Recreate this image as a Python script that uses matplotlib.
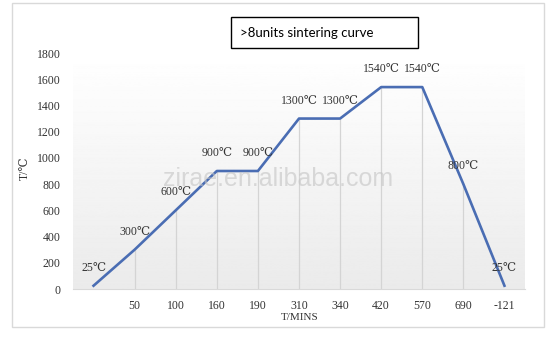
import numpy as np
import matplotlib.pyplot as plt
from matplotlib.patches import Rectangle

# sintering curve data (category axis, first category has no label)
time_labels = ["", "50", "100", "160", "190", "310", "340", "420", "570", "690", "-121"]
temps = [25, 300, 600, 900, 900, 1300, 1300, 1540, 1540, 800, 25]
point_labels = ["25℃", "300℃", "600℃", "900℃", "900℃", "1300℃", "1300℃",
                "1540℃", "1540℃", "800℃", "25℃"]
y_ticks = [0, 200, 400, 600, 800, 1000, 1200, 1400, 1600, 1800]

W, H = 555, 355
fig = plt.figure(figsize=(W / 100, H / 100), dpi=100)
fig.patch.set_facecolor("white")

# outer chart border
fig.patches.append(Rectangle((12 / W, 1 - 327 / H), 532 / W, 324 / H,
                             transform=fig.transFigure, fill=False,
                             edgecolor="#d9d9d9", linewidth=1.0))

ax = fig.add_axes([73 / W, 1 - 289 / H, 452 / W, 236 / H])
x = np.arange(len(temps))
ax.set_xlim(-0.5, len(temps) - 0.5)
ax.set_ylim(0, 1800)

# soft grey gradient behind the plot (white top -> light grey bottom)
grad = np.linspace(0.92, 1.0, 256).reshape(-1, 1)
ax.imshow(grad, cmap="gray", vmin=0, vmax=1, aspect="auto",
          extent=(-0.5, len(temps) - 0.5, 0, 1800), zorder=0, origin="lower")

# drop lines from the points
ax.vlines(x[1:-1], 0, temps[1:-1], colors="#d4d4d4", linewidth=0.9, zorder=1)

ax.plot(x, temps, color="#4a6db3", linewidth=1.9, zorder=3)

serif = ["Liberation Serif", "DejaVu Serif"]
for xi, t, lab in zip(x, temps, point_labels):
    ax.annotate(lab, (xi, t), xytext=(0, 13), textcoords="offset points",
                ha="center", va="center", fontsize=8.5, family=serif,
                color="#333333", zorder=4)

ax.set_xticks(x)
ax.set_xticklabels(time_labels, family=serif, fontsize=8.5, color="#333333")
ax.set_yticks(y_ticks)
ax.set_yticklabels([str(v) for v in y_ticks], family=serif, fontsize=8.5, color="#333333")
ax.tick_params(length=0, pad=8)
ax.tick_params(axis="y", pad=9)
for s in ["top", "right", "left"]:
    ax.spines[s].set_visible(False)
ax.spines["bottom"].set_color("#d9d9d9")

fig.text(300 / W, 1 - 318 / H, "T/MINS", ha="center", va="center",
         family=serif, fontsize=8, color="#333333")
fig.text(25 / W, 1 - 168 / H, "T/℃", ha="center", va="center", rotation=90,
         family=serif, fontsize=8.5, color="#333333")

# title box
fig.patches.append(Rectangle((231 / W, 1 - 48 / H), 187 / W, 31 / H,
                             transform=fig.transFigure, facecolor="white",
                             edgecolor="black", linewidth=1.0, zorder=5))
fig.text(240 / W, 1 - 33 / H, ">8units sintering curve", ha="left", va="center",
         family="Lato", fontsize=9.5, color="black", zorder=6)

# watermark
fig.text(278 / W, 1 - 179 / H, "zirae.en.alibaba.com", ha="center", va="center",
         family="Liberation Sans", fontsize=18, color="#c4c4c4", alpha=0.6, zorder=7)

fig.savefig("out.png", dpi=100)
